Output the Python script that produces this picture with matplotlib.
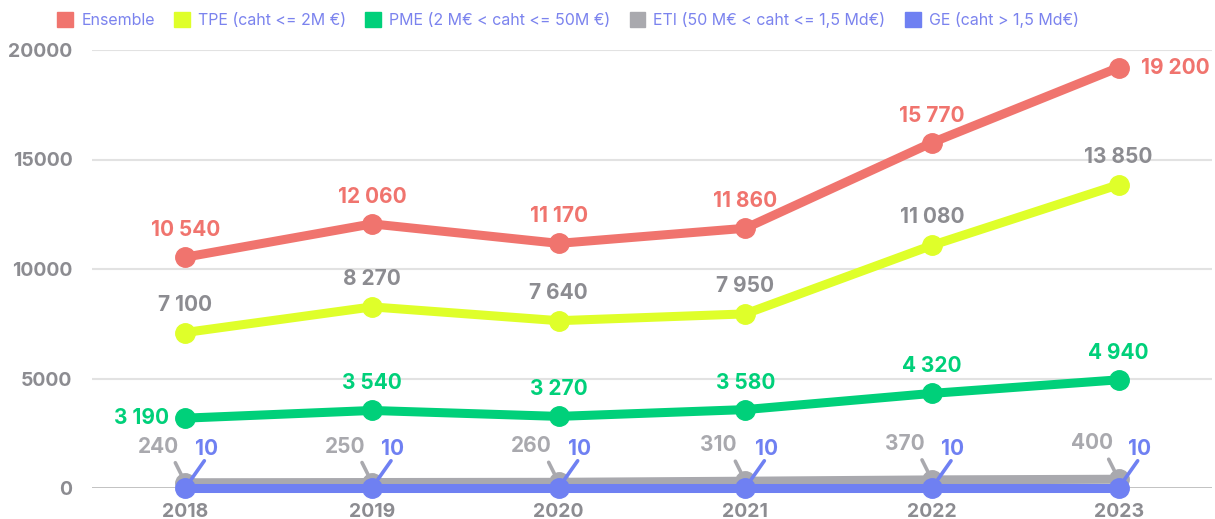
import matplotlib
matplotlib.use("Agg")
import matplotlib.pyplot as plt
from matplotlib.patches import Patch

years = ["2018", "2019", "2020", "2021", "2022", "2023"]
ensemble = [10540, 12060, 11170, 11860, 15770, 19200]
tpe = [7100, 8270, 7640, 7950, 11080, 13850]
pme = [3190, 3540, 3270, 3580, 4320, 4940]
eti = [240, 250, 260, 310, 370, 400]
ge = [10, 10, 10, 10, 10, 10]
series_names = ["Ensemble", "TPE (caht <= 2M €)", "PME (2 M€ < caht <= 50M €)",
                "ETI (50 M€ < caht <= 1,5 Md€)", "GE (caht > 1,5 Md€)"]
yticks = [0, 5000, 10000, 15000, 20000]

C_ENS = "#f0746e"
C_TPE = "#dfff2a"
C_PME = "#00d07a"
C_ETI = "#a9a9ae"
C_GE = "#6f80f2"
C_GRAYTXT = "#8c8c91"
C_LEG = "#7b83ee"

plt.rcParams['font.family'] = ['Inter', 'DejaVu Sans']

fig = plt.figure(figsize=(12.15, 5.19), dpi=100)
ax = fig.add_axes([92/1215, 1-488/519, 1120/1215, 438/519])

x = list(range(len(years)))
ax.set_xlim(-0.5, 5.5)
ax.set_ylim(0, 20000)

for yv in yticks[1:]:
    ax.axhline(yv, color="#e2e2e2", lw=1.5, zorder=0)
ax.axhline(0, color="#bdbdbd", lw=1.3, zorder=0)

lw = 6.5
ms = 14
ax.plot(x, eti, color=C_ETI, lw=lw, marker='o', ms=ms, zorder=3, clip_on=False, solid_capstyle='butt')
ax.plot(x, ge, color=C_GE, lw=lw, marker='o', ms=ms, zorder=4, clip_on=False, solid_capstyle='butt')
ax.plot(x, pme, color=C_PME, lw=lw, marker='o', ms=ms, zorder=3, clip_on=False)
ax.plot(x, tpe, color=C_TPE, lw=lw, marker='o', ms=ms, zorder=3, clip_on=False)
ax.plot(x, ensemble, color=C_ENS, lw=lw, marker='o', ms=ms, zorder=3, clip_on=False)

def fmt(v):
    return f"{v:,}".replace(",", " ")

fs = 15
for i in x:
    # Ensemble
    if i == len(x) - 1:
        ax.annotate(fmt(ensemble[i]), (i, ensemble[i]), xytext=(22, 0), textcoords='offset pixels',
                    ha='left', va='center', color=C_ENS, fontsize=fs, fontweight='bold')
    else:
        ax.annotate(fmt(ensemble[i]), (i, ensemble[i]), xytext=(0, 27), textcoords='offset pixels',
                    ha='center', va='center', color=C_ENS, fontsize=fs, fontweight='bold')
    # TPE
    ax.annotate(fmt(tpe[i]), (i, tpe[i]), xytext=(0, 28), textcoords='offset pixels',
                ha='center', va='center', color=C_GRAYTXT, fontsize=fs, fontweight='bold')
    # PME
    if i == 0:
        ax.annotate(fmt(pme[i]), (i, pme[i]), xytext=(-16, 0), textcoords='offset pixels',
                    ha='right', va='center', color=C_PME, fontsize=fs, fontweight='bold')
    else:
        ax.annotate(fmt(pme[i]), (i, pme[i]), xytext=(0, 27), textcoords='offset pixels',
                    ha='center', va='center', color=C_PME, fontsize=fs, fontweight='bold')
    # ETI with leader
    ax.annotate(fmt(eti[i]), (i, eti[i]), xytext=(-27, 36), textcoords='offset pixels',
                ha='center', va='center', color=C_ETI, fontsize=fs, fontweight='bold', zorder=6,
                annotation_clip=False)
    ax.annotate("", (i, eti[i]), xytext=(-10, 20), textcoords='offset pixels',
                arrowprops=dict(arrowstyle='-', color=C_ETI, lw=2.6, shrinkA=0, shrinkB=5),
                zorder=2, annotation_clip=False)
    # GE with leader
    ax.annotate(fmt(ge[i]), (i, ge[i]), xytext=(21, 39), textcoords='offset pixels',
                ha='center', va='center', color=C_GE, fontsize=fs, fontweight='bold', zorder=6,
                annotation_clip=False)
    ax.annotate("", (i, ge[i]), xytext=(19, 27), textcoords='offset pixels',
                arrowprops=dict(arrowstyle='-', color=C_GE, lw=2.6, shrinkA=0, shrinkB=5),
                zorder=5, annotation_clip=False)

ax.set_xticks(x)
ax.set_xticklabels(years)
ax.set_yticks(yticks)
ax.set_yticklabels([str(v) for v in yticks])
ax.tick_params(axis='both', length=0, labelsize=14, labelcolor=C_GRAYTXT)
for lab in ax.get_xticklabels() + ax.get_yticklabels():
    lab.set_fontweight('bold')
ax.tick_params(axis='x', pad=11)
ax.tick_params(axis='y', pad=14)
for s in ax.spines.values():
    s.set_visible(False)

handles = [Patch(color=c) for c in [C_ENS, C_TPE, C_PME, C_ETI, C_GE]]
leg = fig.legend(handles, series_names, loc='center', bbox_to_anchor=(568/1215, 1-20/519),
                 ncol=5, frameon=False, fontsize=11.5, handlelength=1.0, handleheight=1.0,
                 handletextpad=0.5, columnspacing=1.2)
for t in leg.get_texts():
    t.set_color(C_LEG)

fig.savefig("out.png", dpi=100)
